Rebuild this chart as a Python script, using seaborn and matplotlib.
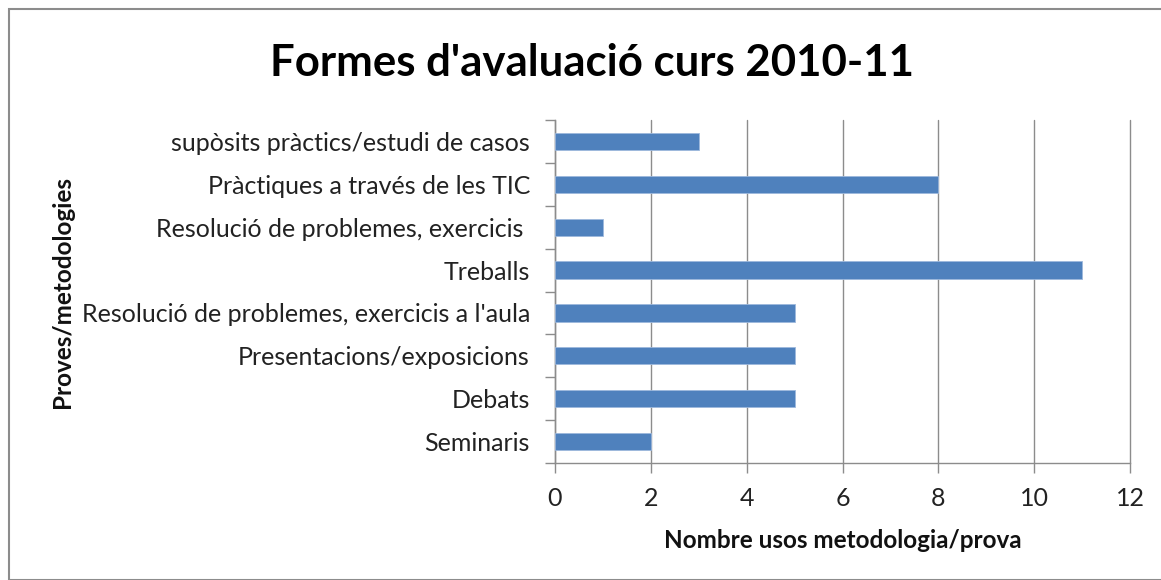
import matplotlib
matplotlib.use("Agg")
import matplotlib.pyplot as plt
import seaborn as sns
import pandas as pd
from matplotlib.patches import Rectangle

categories = [
    "supòsits pràctics/estudi de casos",
    "Pràctiques a través de les TIC",
    "Resolució de problemes, exercicis ",
    "Treballs",
    "Resolució de problemes, exercicis a l'aula",
    "Presentacions/exposicions",
    "Debats",
    "Seminaris",
]
values = [3, 8, 1, 11, 5, 5, 5, 2]
xticks = [0, 2, 4, 6, 8, 10, 12]

title = "Formes d'avaluació curs 2010-11"
xlabel = "Nombre usos metodologia/prova"
ylabel = "Proves/metodologies"

sns.set_theme(style="white")
plt.rcParams["font.family"] = ["Lato", "DejaVu Sans"]

df = pd.DataFrame({"cat": categories, "val": values})

fig = plt.figure(figsize=(11.61, 5.80), dpi=100)
ax = fig.add_axes([555/1161, 1-463/580, (1130-555)/1161, (463-120)/580])

sns.barplot(data=df, x="val", y="cat", orient="h", color="#4F81BD",
            saturation=1, width=0.4, ax=ax, edgecolor="#9DB8DC", linewidth=0.6,
            zorder=3)

ax.set_xlim(0, 12)
ax.set_ylim(len(categories) - 0.5, -0.5)
ax.set_xticks(xticks)
ax.set_xticklabels([str(t) for t in xticks], fontsize=18, color="#222222")
ax.grid(axis="x", color="#8C8C8C", linewidth=1.0, zorder=0)
ax.grid(axis="y", visible=False)
ax.set_axisbelow(True)
for gl in ax.get_xgridlines():
    gl.set_clip_on(False)

for s in ["top", "right"]:
    ax.spines[s].set_visible(False)
for s in ["left", "bottom"]:
    ax.spines[s].set_color("#8C8C8C")
    ax.spines[s].set_linewidth(1.0)

ax.tick_params(axis="x", which="major", length=7, width=1, color="#8C8C8C",
               direction="out", pad=10, bottom=True)
ax.set_yticks(range(len(categories)))
ax.set_yticklabels(categories, fontsize=18, color="#222222")
ax.set_yticks([i - 0.5 for i in range(len(categories) + 1)], minor=True)
ax.tick_params(axis="y", which="major", length=0, pad=18)
ax.tick_params(axis="y", which="minor", length=7, width=1, color="#8C8C8C",
               direction="out", left=True)

ax.set_xlabel("")
ax.set_ylabel("")

fig.text(843/1161, 1-540/580, xlabel, ha="center", va="center",
         fontsize=17.5, fontweight="bold", color="#111111")
fig.text(62/1161, 1-292/580, ylabel, ha="center", va="center", rotation=90,
         fontsize=17.5, fontweight="bold", color="#111111")
fig.text(592/1161, 1-63/580, title, ha="center", va="center",
         fontsize=31.5, fontweight="bold", color="#000000")

fig.patches.append(Rectangle((9/1161, 0.5/580), (1161-9)/1161 + 0.01, (580-9.5)/580,
                             transform=fig.transFigure, fill=False,
                             edgecolor="#8C8C8C", linewidth=1.5))

fig.savefig("out.png", dpi=100)
